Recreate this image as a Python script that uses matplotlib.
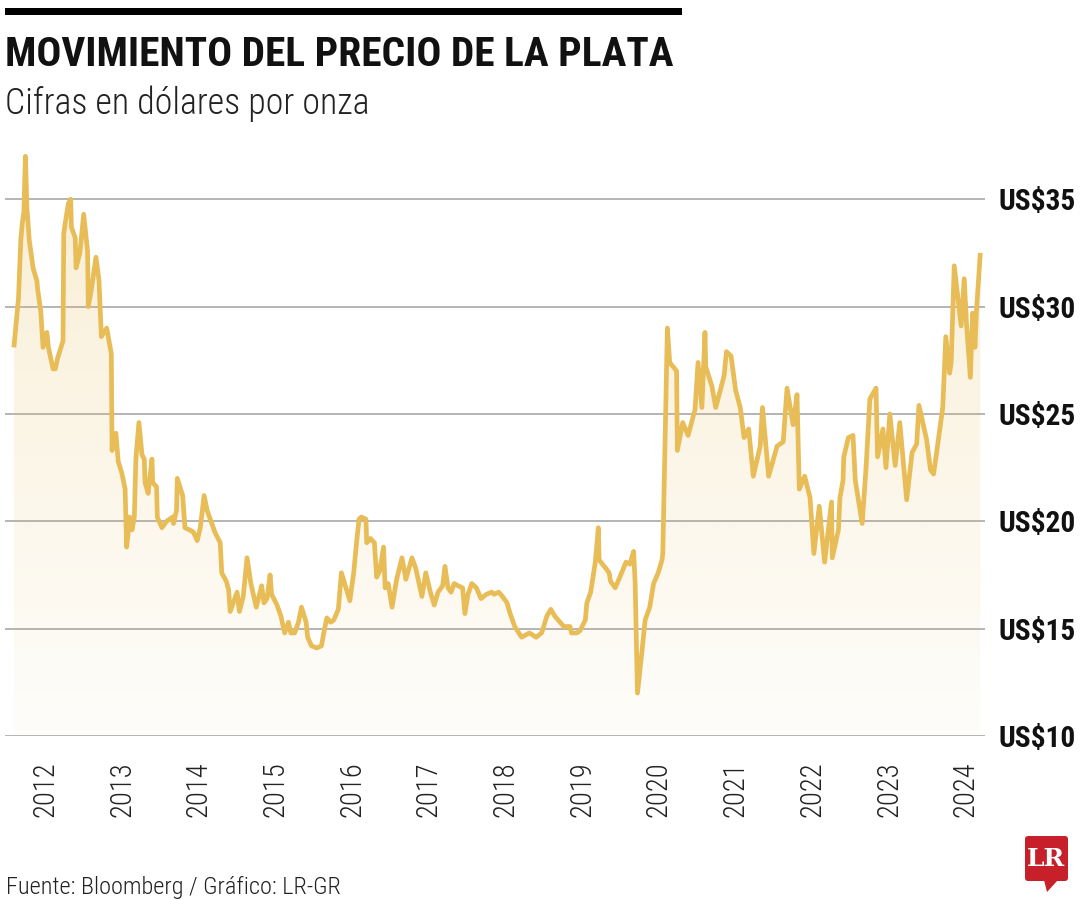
import numpy as np
import matplotlib
matplotlib.use("Agg")
import matplotlib.pyplot as plt
from matplotlib import font_manager as fm
from matplotlib.colors import to_rgb
from matplotlib.patches import Rectangle, FancyBboxPatch, Polygon

# precio de la plata (US$ por onza), fecha en años decimales
years = [2012.09, 2012.15, 2012.18, 2012.20, 2012.22, 2012.24, 2012.26, 2012.29, 2012.34, 2012.39,
         2012.40, 2012.44, 2012.47, 2012.52, 2012.54, 2012.60, 2012.63, 2012.66, 2012.73, 2012.74,
         2012.76, 2012.80, 2012.83, 2012.84, 2012.89, 2012.90, 2012.95, 2013.00, 2013.05, 2013.06,
         2013.10, 2013.16, 2013.20, 2013.23, 2013.30, 2013.36, 2013.37, 2013.42, 2013.45, 2013.50,
         2013.54, 2013.56, 2013.60, 2013.63, 2013.66, 2013.68, 2013.72, 2013.76, 2013.79, 2013.80,
         2013.84, 2013.89, 2013.90, 2013.95, 2013.96, 2014.02, 2014.08, 2014.16, 2014.17, 2014.21,
         2014.22, 2014.29, 2014.32, 2014.38, 2014.43, 2014.48, 2014.52, 2014.57, 2014.61, 2014.67,
         2014.71, 2014.78, 2014.80, 2014.86, 2014.89, 2014.91, 2014.96, 2015.00, 2015.03, 2015.08,
         2015.13, 2015.18, 2015.25, 2015.30, 2015.32, 2015.35, 2015.39, 2015.43, 2015.45, 2015.52,
         2015.57, 2015.62, 2015.67, 2015.70, 2015.75, 2015.80, 2015.84, 2015.90, 2015.92, 2015.97,
         2016.04, 2016.10, 2016.13, 2016.17, 2016.22, 2016.26, 2016.32, 2016.36, 2016.42, 2016.47,
         2016.52, 2016.56, 2016.59, 2016.62, 2016.68, 2016.69, 2016.74, 2016.79, 2016.82, 2016.86,
         2016.91, 2016.93, 2016.97, 2017.02, 2017.08, 2017.15, 2017.20, 2017.28, 2017.33, 2017.41,
         2017.46, 2017.52, 2017.57, 2017.62, 2017.68, 2017.71, 2017.75, 2017.79, 2017.83, 2017.88,
         2017.94, 2017.97, 2018.01, 2018.06, 2018.12, 2018.18, 2018.25, 2018.32, 2018.35, 2018.41,
         2018.46, 2018.52, 2018.56, 2018.62, 2018.71, 2018.81, 2018.90, 2018.97, 2019.04, 2019.09,
         2019.14, 2019.21, 2019.26, 2019.34, 2019.36, 2019.43, 2019.47, 2019.54, 2019.56, 2019.61,
         2019.67, 2019.71, 2019.72, 2019.81, 2019.85, 2019.87, 2019.93, 2019.99, 2020.07, 2020.12,
         2020.17, 2020.19, 2020.22, 2020.28, 2020.32, 2020.38, 2020.43, 2020.49, 2020.54, 2020.55,
         2020.61, 2020.64, 2020.73, 2020.74, 2020.81, 2020.88, 2020.97, 2021.01, 2021.06, 2021.10,
         2021.11, 2021.19, 2021.24, 2021.30, 2021.35, 2021.38, 2021.44, 2021.50, 2021.56, 2021.61,
         2021.67, 2021.73, 2021.82, 2021.85, 2021.93, 2022.04, 2022.12, 2022.17, 2022.23, 2022.25,
         2022.30, 2022.33, 2022.40, 2022.47, 2022.52, 2022.59, 2022.66, 2022.75, 2022.76, 2022.84,
         2022.86, 2022.90, 2022.91, 2022.97, 2023.03, 2023.06, 2023.15, 2023.20, 2023.25, 2023.33,
         2023.35, 2023.42, 2023.46, 2023.51, 2023.58, 2023.64, 2023.73, 2023.80, 2023.86, 2023.89,
         2023.99, 2024.04, 2024.08, 2024.12, 2024.20, 2024.24, 2024.29, 2024.31, 2024.35, 2024.44,
         2024.48, 2024.51, 2024.56, 2024.59, 2024.62, 2024.64, 2024.69]
prices = [28.1, 30.4, 33.1, 33.9, 34.4, 37.0, 34.6, 33.1, 31.8, 31.2,
          30.8, 29.8, 28.1, 28.8, 28.1, 27.1, 27.1, 27.6, 28.4, 33.4,
          33.9, 34.8, 35.0, 33.7, 33.2, 31.8, 32.5, 34.3, 32.6, 30.0,
          30.8, 32.3, 31.2, 28.6, 29.0, 27.8, 23.3, 24.1, 22.8, 22.2,
          21.5, 18.8, 20.2, 19.6, 20.2, 22.9, 24.6, 23.1, 22.9, 21.8,
          21.3, 22.9, 21.8, 21.6, 20.2, 19.7, 20.0, 20.2, 19.9, 20.5,
          22.0, 21.2, 19.7, 19.6, 19.5, 19.1, 19.7, 21.2, 20.5, 19.9,
          19.5, 19.0, 17.6, 17.2, 16.8, 15.8, 16.3, 16.7, 15.8, 16.5,
          18.3, 17.1, 16.0, 16.7, 17.0, 16.2, 16.4, 17.5, 16.6, 16.1,
          15.6, 14.8, 15.3, 14.8, 14.8, 15.3, 16.0, 15.3, 14.6, 14.2,
          14.1, 14.2, 14.8, 15.5, 15.3, 15.4, 15.9, 17.6, 16.9, 16.3,
          17.6, 19.1, 20.1, 20.2, 20.1, 19.0, 19.2, 19.0, 17.4, 17.7,
          18.8, 16.9, 17.1, 16.0, 17.3, 18.3, 17.3, 18.3, 17.8, 16.5,
          17.6, 16.7, 16.1, 16.7, 17.0, 17.9, 16.9, 16.7, 17.1, 17.0,
          16.9, 15.7, 16.6, 17.1, 16.9, 16.4, 16.6, 16.7, 16.6, 16.7,
          16.5, 16.2, 15.7, 15.1, 14.6, 14.8, 14.6, 14.8, 15.6, 15.9,
          15.6, 15.3, 15.1, 15.1, 14.8, 14.8, 14.9, 15.4, 16.2, 16.7,
          18.1, 19.7, 18.2, 17.8, 17.6, 17.2, 16.9, 17.4, 18.1, 18.0,
          18.6, 17.1, 12.0, 14.0, 15.4, 16.0, 17.1, 17.6, 18.2, 18.5,
          29.0, 27.4, 27.0, 23.3, 24.6, 24.0, 25.2, 27.4, 25.3, 28.8,
          27.2, 26.3, 25.3, 26.1, 26.8, 27.9, 27.7, 26.1, 25.3, 23.9,
          24.3, 22.1, 23.5, 25.3, 22.1, 23.5, 23.7, 26.2, 24.9, 24.5,
          25.9, 21.5, 22.1, 21.1, 18.5, 20.7, 18.1, 20.9, 18.3, 19.6,
          21.1, 21.9, 23.0, 23.9, 24.0, 21.9, 19.9, 22.5, 25.7, 26.2,
          23.0, 24.3, 22.5, 25.0, 22.6, 24.6, 21.0, 23.2, 23.6, 25.4,
          23.8, 22.4, 22.2, 23.2, 25.3, 28.6, 26.9, 27.4, 31.9, 29.1,
          31.3, 29.2, 26.7, 29.7, 28.1, 29.8, 32.5]

year_labels = list(range(2012, 2025))
price_ticks = [10, 15, 20, 25, 30, 35]

GOLD = "#E8BD57"
GRID = "#b4b4b4"

names = {f.name for f in fm.fontManager.ttflist}
NARROW, STRETCH = "DejaVu Sans", "condensed"
for cand in ["Liberation Sans Narrow", "Roboto Condensed", "Open Sans Condensed",
             "Noto Sans Condensed"]:
    if cand in names:
        NARROW, STRETCH = cand, "normal"
        break

fig = plt.figure(figsize=(10.8, 9), dpi=100)
W, H = 1080, 900
renderer = fig.canvas.get_renderer()


def size_for(s, width, **kw):
    # font size that makes text s about width pixels wide
    t = fig.text(0, 0, s, fontsize=20, **kw)
    w = t.get_window_extent(renderer).width
    t.remove()
    return 20 * width / w


# plot area: y=10 at 736px, 21.47 px per dollar; x 5..985 px
ax = fig.add_axes([5 / W, (H - 736) / H, 980 / W, 28 * 21.47 / H])
ax.set_xlim(2011.974, 2024.751)
ax.set_ylim(10, 38)

for p in price_ticks:
    ax.axhline(p, color=GRID, lw=1.4, zorder=1)

# gradient fill under the line
poly = ax.fill_between(years, prices, 10, color="none", lw=0)
grad = np.zeros((256, 1, 4))
grad[..., :3] = to_rgb(GOLD)
grad[..., 3] = np.linspace(0.03, 0.26, 256)[:, None]
im = ax.imshow(grad, extent=[years[0], years[-1], 10, 38], origin="lower",
               aspect="auto", zorder=1.5, interpolation="bilinear")
im.set_clip_path(poly.get_paths()[0], transform=ax.transData)

ax.plot(years, prices, color=GOLD, lw=3.4, solid_joinstyle="round",
        solid_capstyle="butt", zorder=3)

for s in ax.spines.values():
    s.set_visible(False)

ylab_kw = dict(fontfamily=NARROW, fontstretch=STRETCH, fontweight="bold")
ysize = size_for("US$35", 77, **ylab_kw)
ax.yaxis.tick_right()
ax.set_yticks(price_ticks)
ax.set_yticklabels(["US$%d" % p for p in price_ticks], fontsize=ysize,
                   color="#111111", **ylab_kw)
ax.tick_params(axis="y", length=0, pad=9.5)

xlab_kw = dict(fontfamily=NARROW, fontstretch=STRETCH, fontweight="light")
xsize = size_for("2012", 56, **xlab_kw)
ax.set_xticks([y + 0.5 for y in year_labels])
ax.set_xticklabels([str(y) for y in year_labels], rotation=90, fontsize=xsize,
                   color="#222222", **xlab_kw)
ax.tick_params(axis="x", length=0, pad=18.5)

# overlay in pixel coordinates for header, footer and logo
ov = fig.add_axes([0, 0, 1, 1], zorder=5)
ov.set_xlim(0, W)
ov.set_ylim(H, 0)
ov.axis("off")
ov.patch.set_alpha(0)

ov.add_patch(Rectangle((5, 8), 677, 7, color="#000000", lw=0))


def fit_text(x, y, s, width, **kw):
    return ov.text(x, y, s, va="baseline", ha="left",
                   fontsize=size_for(s, width, **kw), **kw)


fit_text(5, 66, "MOVIMIENTO DEL PRECIO DE LA PLATA", 668, fontfamily=NARROW,
         fontstretch=STRETCH, fontweight="bold", color="#111111")
fit_text(5, 114, "Cifras en dólares por onza", 364, fontfamily=NARROW,
         fontstretch=STRETCH, fontweight="light", color="#222222")
fit_text(6, 894, "Fuente: Bloomberg / Gráfico: LR-GR", 336, fontfamily=NARROW,
         fontstretch=STRETCH, fontweight="light", color="#222222")

# logo LR
red = "#C8202B"
ov.add_patch(FancyBboxPatch((1025, 836), 43, 45, boxstyle="round,pad=0,rounding_size=3",
                            color=red, lw=0))
ov.add_patch(Polygon([(1044, 880), (1058, 880), (1047, 892)], closed=True, color=red, lw=0))
ov.text(1046.5, 859, "LR", ha="center", va="center", fontsize=18, fontweight="bold",
        fontfamily="DejaVu Serif", color="white")

fig.savefig("out.png", dpi=100)
